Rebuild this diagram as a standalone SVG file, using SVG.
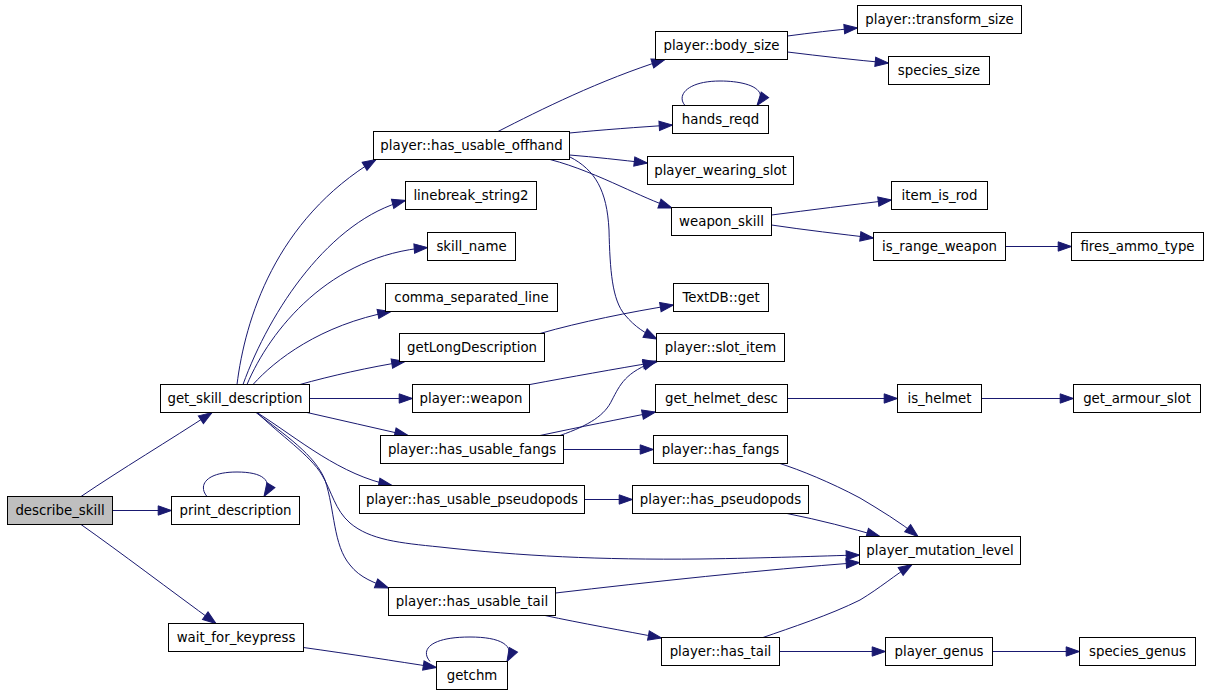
<svg xmlns="http://www.w3.org/2000/svg" width="1208" height="693" viewBox="0 0 1208 693">
<style>
.n rect{fill:#ffffff;stroke:#000000;stroke-width:1}
.n text{font-family:"DejaVu Sans","Liberation Sans",sans-serif;font-size:13.33px;fill:#000000;text-anchor:middle}
#edges path{fill:none;stroke:#191970;stroke-width:1;marker-end:url(#ah)}
</style>
<defs>
<marker id="ah" markerUnits="userSpaceOnUse" markerWidth="14" markerHeight="10" refX="13.3" refY="4.67" orient="auto" overflow="visible">
<path d="M0,0 L13.3,4.67 L0,9.33 z" fill="#191970" stroke="#191970" stroke-width="1"/>
</marker>
</defs>
<rect width="1208" height="693" fill="#ffffff"/>
<g id="edges">
<path d="M81,496.5 C120,470 170,440 212,412.5"/>
<path d="M112.5,510.5 L171.5,510.5"/>
<path d="M81,524.5 C120,552 170,590 216,623.5"/>
<path d="M207,496.5 C198,486 205,472 237,472 C262,472 274,480 264,496.5"/>
<path d="M303.5,647.5 C350,654 395,661 436.5,667.5"/>
<path d="M430,661.5 C420,650 430,637 470,637 C500,637 516,645 507,661.5"/>
<path d="M237,384.5 C245,320 275,220 376,159.5"/>
<path d="M243,384.5 C270,310 330,220 405.5,200.5"/>
<path d="M247,384.5 C270,330 330,255 427.5,247.5"/>
<path d="M253,384.5 C275,360 320,325 391,311.5"/>
<path d="M300,384.5 C330,376 370,367 405,361.5"/>
<path d="M309.5,398.5 L412.5,398.5"/>
<path d="M307,412.5 C340,420 375,428 408,435.5"/>
<path d="M257,412.5 C300,440 340,475 392,485.5"/>
<path d="M257,412.5 C280,435 310,455 322,475 C332,492 335,510 350,523 C370,540 400,543 440,547 C520,556 600,560 700,559 C770,558 820,556 859.5,555"/>
<path d="M256,412.5 C285,435 315,455 325,480 C335,510 333,545 350,565 C360,578 375,583 388.5,588"/>
<path d="M498,131.5 C540,110 600,80 665,59.5"/>
<path d="M569.5,133 C600,130 640,127 672.5,125"/>
<path d="M569.5,155 C595,157 620,160 647.5,163"/>
<path d="M550,159.5 C575,166 600,177 620,186 C640,195 655,202 672,208"/>
<path d="M570,157 C595,170 607,190 609,230 C610,270 612,300 625,315 C635,327 645,333 657,339"/>
<path d="M540,333.5 C580,322 630,312 673.5,305"/>
<path d="M530,384.5 C570,377 615,369 656.5,362"/>
<path d="M560,435.5 C590,425 605,415 612,400 C620,385 625,372 656.5,361"/>
<path d="M540,435.5 C580,427 620,419 655.5,412"/>
<path d="M563.5,449.5 L653.5,449.5"/>
<path d="M584.5,499.5 L632.5,499.5"/>
<path d="M780,463.5 C800,470 830,482 860,498 C880,510 900,522 918,536.5"/>
<path d="M787,513.5 C820,520 850,528 880,536.5"/>
<path d="M555.5,593 C650,582 760,570 859.5,562.5"/>
<path d="M545,615.5 C580,623 625,631 661.5,638"/>
<path d="M763,637.5 C790,628 830,615 860,600 C880,588 895,575 912,564.5"/>
<path d="M779.5,651.5 L885.5,651.5"/>
<path d="M992.5,651.5 L1079.5,651.5"/>
<path d="M787.5,398.5 L897.5,398.5"/>
<path d="M981.5,398.5 L1073.5,398.5"/>
<path d="M787.5,36 C810,33 835,30 857.5,28"/>
<path d="M787.5,52 C820,56 855,60 888.5,63"/>
<path d="M771.5,215 C810,210 850,205 891.5,200"/>
<path d="M771.5,225 C805,230 840,234 873.5,238"/>
<path d="M1005.5,246.5 L1071.5,246.5"/>
<path d="M685,105.5 C676,95 688,81 720,81 C745,81 770,88 757,105.5"/>
</g>
<g id="describe_skill" class="n"><rect x="7.5" y="496.5" width="105" height="28" style="fill:#bfbfbf"/><text x="60" y="514.5">describe_skill</text></g>
<g id="print_description" class="n"><rect x="171.5" y="496.5" width="128" height="28"/><text x="235.5" y="514.5">print_description</text></g>
<g id="wait_for_keypress" class="n"><rect x="168.5" y="623.5" width="135" height="28"/><text x="236" y="641.5">wait_for_keypress</text></g>
<g id="getchm" class="n"><rect x="436.5" y="661.5" width="71" height="28"/><text x="472" y="679.5">getchm</text></g>
<g id="get_skill_description" class="n"><rect x="160.5" y="384.5" width="149" height="28"/><text x="235" y="402.5">get_skill_description</text></g>
<g id="player_has_usable_offhand" class="n"><rect x="373.5" y="131.5" width="196" height="28"/><text x="471.5" y="149.5">player::has_usable_offhand</text></g>
<g id="linebreak_string2" class="n"><rect x="405.5" y="181.5" width="131" height="28"/><text x="471" y="199.5">linebreak_string2</text></g>
<g id="skill_name" class="n"><rect x="427.5" y="232.5" width="88" height="28"/><text x="471.5" y="250.5">skill_name</text></g>
<g id="comma_separated_line" class="n"><rect x="385.5" y="283.5" width="172" height="28"/><text x="471.5" y="301.5">comma_separated_line</text></g>
<g id="getLongDescription" class="n"><rect x="399.5" y="333.5" width="145" height="28"/><text x="472" y="351.5">getLongDescription</text></g>
<g id="player_weapon" class="n"><rect x="412.5" y="384.5" width="117" height="28"/><text x="471" y="402.5">player::weapon</text></g>
<g id="player_has_usable_fangs" class="n"><rect x="380.5" y="435.5" width="183" height="28"/><text x="472" y="453.5">player::has_usable_fangs</text></g>
<g id="player_has_usable_pseudopods" class="n"><rect x="359.5" y="485.5" width="225" height="28"/><text x="472" y="503.5">player::has_usable_pseudopods</text></g>
<g id="player_has_usable_tail" class="n"><rect x="388.5" y="587.5" width="167" height="28"/><text x="472" y="605.5">player::has_usable_tail</text></g>
<g id="player_body_size" class="n"><rect x="655.5" y="31.5" width="132" height="28"/><text x="721.5" y="49.5">player::body_size</text></g>
<g id="hands_reqd" class="n"><rect x="672.5" y="105.5" width="96" height="28"/><text x="720.5" y="123.5">hands_reqd</text></g>
<g id="player_wearing_slot" class="n"><rect x="647.5" y="156.5" width="146" height="28"/><text x="720.5" y="174.5">player_wearing_slot</text></g>
<g id="weapon_skill" class="n"><rect x="671.5" y="207.5" width="100" height="28"/><text x="721.5" y="225.5">weapon_skill</text></g>
<g id="TextDB_get" class="n"><rect x="673.5" y="283.5" width="95" height="28"/><text x="721" y="301.5">TextDB::get</text></g>
<g id="player_slot_item" class="n"><rect x="656.5" y="333.5" width="128" height="28"/><text x="720.5" y="351.5">player::slot_item</text></g>
<g id="get_helmet_desc" class="n"><rect x="655.5" y="384.5" width="132" height="28"/><text x="721.5" y="402.5">get_helmet_desc</text></g>
<g id="player_has_fangs" class="n"><rect x="653.5" y="435.5" width="134" height="28"/><text x="720.5" y="453.5">player::has_fangs</text></g>
<g id="player_has_pseudopods" class="n"><rect x="632.5" y="485.5" width="176" height="28"/><text x="720.5" y="503.5">player::has_pseudopods</text></g>
<g id="player_has_tail" class="n"><rect x="661.5" y="637.5" width="118" height="28"/><text x="720.5" y="655.5">player::has_tail</text></g>
<g id="player_transform_size" class="n"><rect x="857.5" y="5.5" width="164" height="28"/><text x="939.5" y="23.5">player::transform_size</text></g>
<g id="species_size" class="n"><rect x="888.5" y="56.5" width="101" height="28"/><text x="939" y="74.5">species_size</text></g>
<g id="item_is_rod" class="n"><rect x="891.5" y="181.5" width="96" height="28"/><text x="939.5" y="199.5">item_is_rod</text></g>
<g id="is_range_weapon" class="n"><rect x="873.5" y="232.5" width="132" height="28"/><text x="939.5" y="250.5">is_range_weapon</text></g>
<g id="fires_ammo_type" class="n"><rect x="1071.5" y="232.5" width="132" height="28"/><text x="1137.5" y="250.5">fires_ammo_type</text></g>
<g id="is_helmet" class="n"><rect x="897.5" y="384.5" width="84" height="28"/><text x="939.5" y="402.5">is_helmet</text></g>
<g id="get_armour_slot" class="n"><rect x="1073.5" y="384.5" width="127" height="28"/><text x="1137" y="402.5">get_armour_slot</text></g>
<g id="player_mutation_level" class="n"><rect x="859.5" y="536.5" width="161" height="28"/><text x="940" y="554.5">player_mutation_level</text></g>
<g id="player_genus" class="n"><rect x="885.5" y="637.5" width="107" height="28"/><text x="939" y="655.5">player_genus</text></g>
<g id="species_genus" class="n"><rect x="1079.5" y="637.5" width="116" height="28"/><text x="1137.5" y="655.5">species_genus</text></g>
</svg>
